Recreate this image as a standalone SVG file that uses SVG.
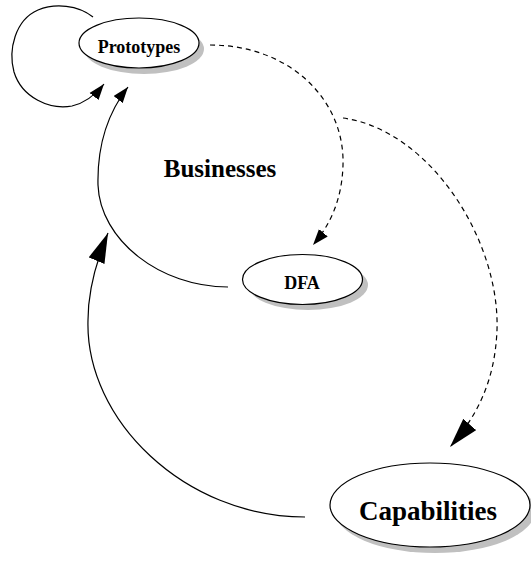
<svg xmlns="http://www.w3.org/2000/svg" width="531" height="567" viewBox="0 0 531 567">
  <style>
    .shadow { fill: #c0c0c0; stroke: none; }
    .node { fill: #ffffff; stroke: #000000; stroke-width: 1.2; }
    .label { font-family: "Liberation Serif", "Times New Roman", serif; font-weight: bold; text-anchor: middle; fill: #000000; }
    .edge { fill: none; stroke: #000000; stroke-width: 1.2; }
    .dashed { stroke-dasharray: 5 4; }
  </style>
  <defs>
    <marker id="headSmall" markerUnits="userSpaceOnUse" markerWidth="16" markerHeight="12" viewBox="0 0 14 10" refX="14" refY="5" orient="auto">
      <path d="M0,0 L14,5 L0,10 Z" fill="#000000"/>
    </marker>
    <marker id="headLarge" markerUnits="userSpaceOnUse" markerWidth="30" markerHeight="18" viewBox="0 0 28 16" refX="28" refY="8" orient="auto">
      <path d="M0,0 L28,8 L0,16 Z" fill="#000000"/>
    </marker>
  </defs>

  <rect width="531" height="567" fill="#ffffff"/>

  <g id="connectors">
    <!-- Prototypes self-loop -->
    <path class="edge" d="M93,17 C78,5 55,3 38,10 C15,20 8,50 14,72 C22,98 50,110 72,106 C85,103 96,94 104,84" marker-end="url(#headSmall)"/>
    <!-- DFA to Prototypes -->
    <path class="edge" d="M228,287 C160,287 100,240 98,185 C97,140 110,110 128,87" marker-end="url(#headSmall)"/>
    <!-- Prototypes to DFA -->
    <path class="edge dashed" d="M210,45 C290,45 345,100 343,165 C342,200 330,225 313,245" marker-end="url(#headSmall)"/>
    <!-- branch to Capabilities -->
    <path class="edge dashed" d="M343,118 C430,130 500,240 497,330 C495,380 478,415 450,447" marker-end="url(#headLarge)"/>
    <!-- Capabilities to Businesses -->
    <path class="edge" d="M305,517 C185,517 85,420 88,320 C88,290 96,262 108,233" marker-end="url(#headLarge)"/>
  </g>

  <g id="node-prototypes">
    <ellipse class="shadow" cx="144" cy="49" rx="60" ry="25"/>
    <ellipse class="node" cx="139" cy="43" rx="60" ry="25"/>
    <text class="label" x="139" y="53" font-size="18">Prototypes</text>
  </g>

  <g id="node-businesses">
    <text class="label" x="220" y="177" font-size="25">Businesses</text>
  </g>

  <g id="node-dfa">
    <ellipse class="shadow" cx="308" cy="285" rx="60" ry="25"/>
    <ellipse class="node" cx="302.5" cy="279.5" rx="60" ry="25"/>
    <text class="label" x="302" y="289" font-size="18">DFA</text>
  </g>

  <g id="node-capabilities">
    <ellipse class="shadow" cx="435" cy="511" rx="100" ry="42"/>
    <ellipse class="node" cx="430" cy="505" rx="100" ry="42"/>
    <text class="label" x="428" y="520" font-size="27">Capabilities</text>
  </g>
</svg>
